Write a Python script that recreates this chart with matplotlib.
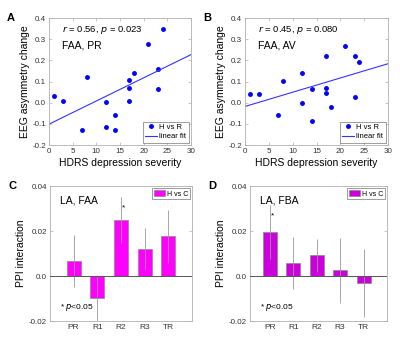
import numpy as np
import matplotlib
matplotlib.use("Agg")
import matplotlib.pyplot as plt

plt.rcParams['font.family'] = ['Liberation Sans', 'DejaVu Sans']
plt.rcParams['axes.unicode_minus'] = False

# scatter data (HDRS vs EEG asymmetry change)
hdrs_a = [1, 3, 8, 7, 12, 12, 14, 14, 17, 17, 17, 18, 21, 23, 23, 24]
eeg_a = [0.033, 0.008, 0.12, -0.13, 0.005, -0.115, -0.057, -0.13,
         0.106, 0.071, 0.008, 0.142, 0.278, 0.158, 0.063, 0.349]
hdrs_b = [1, 3, 8, 7, 12, 12, 14, 14, 17, 17, 17, 18, 21, 23, 23, 24]
eeg_b = [0.04, 0.043, 0.103, -0.06, 0.142, -0.002, 0.066, -0.087,
         0.223, 0.07, 0.044, -0.019, 0.269, 0.221, 0.025, 0.194]

# bar data (PPI interaction)
conds = ['PR', 'R1', 'R2', 'R3', 'TR']
ppi_c = [0.0066, -0.0099, 0.025, 0.0121, 0.0176]
err_c = [0.0116, 0.0105, 0.0102, 0.0091, 0.0117]
ppi_d = [0.0194, 0.0058, 0.0092, 0.0025, -0.003]
err_d = [0.012, 0.0116, 0.0074, 0.0143, 0.015]

frame_col = '#b0b0b0'
fig = plt.figure(figsize=(4, 3.42), dpi=100)


def style_axes(ax):
    for s in ax.spines.values():
        s.set_color(frame_col)
        s.set_linewidth(0.6)
    ax.tick_params(direction='in', length=2, width=0.5, color=frame_col,
                   labelsize=5.8, labelcolor='#333333', top=True, right=True, pad=2)


def panel_letter(rect, letter):
    fig.text(rect[0] - 0.105, rect[1] + rect[3] + 0.015, letter,
             fontsize=8, fontweight='bold', va='top')


def scatter_panel(rect, x, y, letter, stat, label):
    ax = fig.add_axes(rect)
    ax.plot(x, y, 'o', color='blue', markersize=2.5, label='H vs R')
    k, b = np.polyfit(x, y, 1)
    xx = np.array([0, 30])
    ax.plot(xx, k * xx + b, color=(0.2, 0.2, 1.0), linewidth=0.8, label='linear fit')
    ax.set_xlim(0, 30)
    ax.set_ylim(-0.2, 0.4)
    ax.set_xticks(np.arange(0, 31, 5))
    ax.set_yticks(np.arange(-0.2, 0.41, 0.1))
    ax.set_yticklabels(['%.1f' % v for v in np.arange(-0.2, 0.41, 0.1)])
    style_axes(ax)
    ax.set_xlabel('HDRS depression severity', fontsize=7.5, labelpad=2)
    ax.set_ylabel('EEG asymmetry change', fontsize=7.5, labelpad=2)
    ax.text(0.09, 0.89, stat, transform=ax.transAxes, fontsize=6.8)
    ax.text(0.09, 0.76, label, transform=ax.transAxes, fontsize=7.5)
    leg = ax.legend(loc='lower right', fontsize=5.5, frameon=True, fancybox=False,
                    handlelength=1.6, handletextpad=0.3, borderpad=0.3,
                    labelspacing=0.25, borderaxespad=0.3)
    leg.get_frame().set_edgecolor('#555555')
    leg.get_frame().set_linewidth(0.5)
    panel_letter(rect, letter)
    return ax


def bar_panel(rect, vals, errs, color, letter, label, star_i, xlim):
    ax = fig.add_axes(rect)
    pos = np.arange(1, len(conds) + 1)
    ax.bar(pos, vals, width=0.6, color=color, edgecolor='#888888',
           linewidth=0.5, label='H vs C', zorder=2)
    ax.errorbar(pos, vals, yerr=errs, fmt='none', ecolor='#999999',
                elinewidth=0.6, capsize=0, zorder=3)
    ax.axhline(0, color='#555555', linewidth=0.7, zorder=4)
    ax.set_xlim(*xlim)
    ax.set_ylim(-0.02, 0.04)
    ax.set_xticks(pos)
    ax.set_xticklabels(conds)
    ax.set_yticks([-0.02, 0, 0.02, 0.04])
    ax.set_yticklabels(['-0.02', '0.0', '0.02', '0.04'])
    style_axes(ax)
    ax.tick_params(axis='x', length=0, labelsize=6)
    ax.set_ylabel('PPI interaction', fontsize=7.5, labelpad=2)
    ax.text(0.07, 0.87, label, transform=ax.transAxes, fontsize=7.5)
    ax.text(0.07, 0.09, '* $\\it{p}$<0.05', transform=ax.transAxes, fontsize=6)
    ax.text(pos[star_i] + 0.12, vals[star_i] + errs[star_i] - 0.0055, '*',
            fontsize=6, ha='center')
    leg = ax.legend(loc='upper right', fontsize=5, frameon=True, fancybox=False,
                    handlelength=1.6, handleheight=1.0, handletextpad=0.2,
                    borderpad=0.25, borderaxespad=0.35)
    leg.get_frame().set_edgecolor('#555555')
    leg.get_frame().set_linewidth(0.5)
    panel_letter(rect, letter)
    return ax


scatter_panel([0.1225, 0.576, 0.355, 0.371], hdrs_a, eeg_a, 'A',
              '$\\it{r}$ = 0.56, $\\it{p}$ = 0.023', 'FAA, PR')
scatter_panel([0.6125, 0.576, 0.3575, 0.371], hdrs_b, eeg_b, 'B',
              '$\\it{r}$ = 0.45, $\\it{p}$ = 0.080', 'FAA, AV')
bar_panel([0.125, 0.0614, 0.355, 0.3947], ppi_c, err_c, '#ff00ff', 'C',
          'LA, FAA', 2, (0, 6))
bar_panel([0.625, 0.0614, 0.3425, 0.3947], ppi_d, err_d, '#cc00dd', 'D',
          'LA, FBA', 0, (0.15, 6.0))

fig.savefig('out.png', dpi=100)
